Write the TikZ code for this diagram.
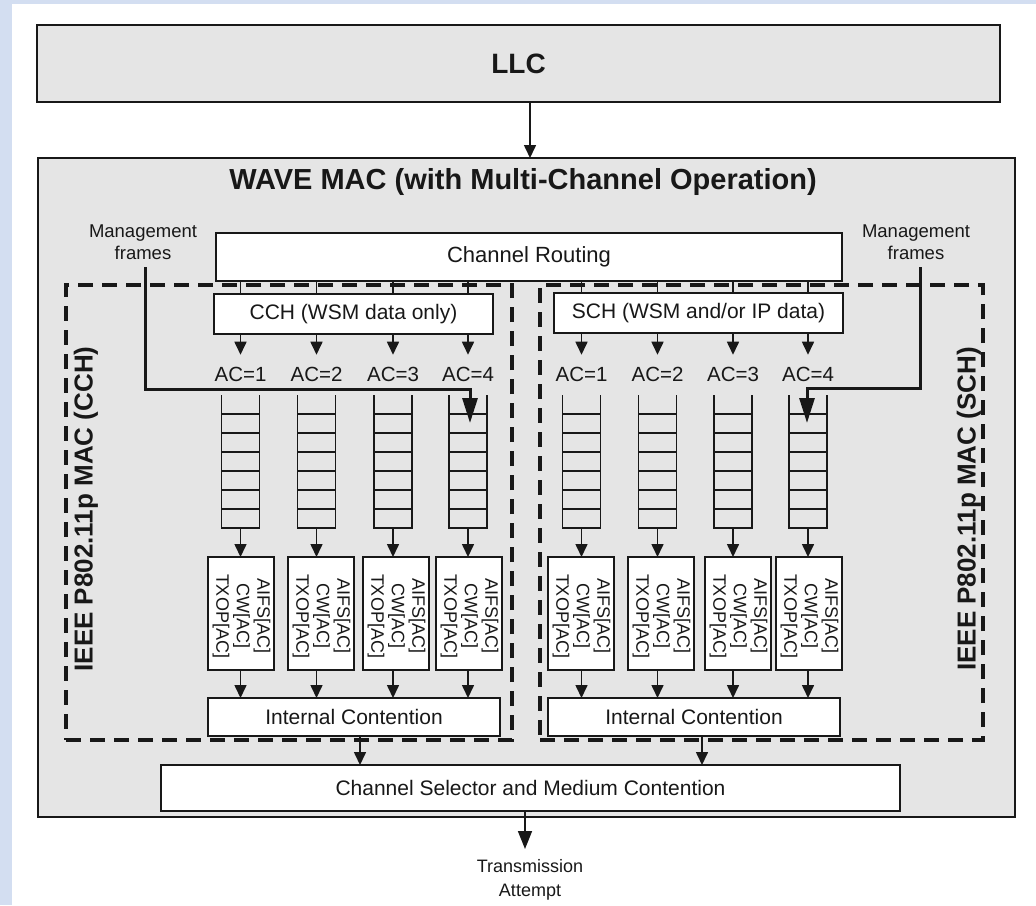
\documentclass[tikz,border=0pt]{standalone}
\usepackage{fontspec}
\usepackage{graphicx}
\setmainfont{Liberation Sans}
\usetikzlibrary{arrows.meta,calc}

\definecolor{pagebg}{RGB}{211,222,241}
\definecolor{panel}{RGB}{229,229,229}
\definecolor{ink}{RGB}{24,24,24}

\begin{document}
\begin{tikzpicture}[x=1pt,y=-1pt,
  every node/.style={inner sep=0pt, outer sep=0pt, text=ink},
  panelbox/.style={draw=ink, line width=1.6pt, fill=panel},
  whitebox/.style={draw=ink, line width=1.5pt, fill=white, font=\fontsize{21}{25}\selectfont},
  regionbox/.style={draw=ink, line width=3.2pt, dash pattern=on 15pt off 9pt},
  queuebox/.style={minimum width=38pt, minimum height=133pt},
  qline/.style={draw=ink, line width=1.5pt},
  edcabox/.style={draw=ink, line width=1.5pt, fill=white, minimum width=66pt, minimum height=113pt},
  edcatext/.style={font=\fontsize{18}{20.5}\selectfont},
  aclabel/.style={font=\fontsize{20.5}{24}\selectfont},
  plainline/.style={draw=ink, line width=1.4pt},
  arr/.style={draw=ink, line width=1.6pt, -{Triangle[width=12pt,length=13pt]}},
  bigarr/.style={draw=ink, line width=1.6pt, -{Triangle[width=14pt,length=18pt]}},
  mgarr/.style={draw=ink, line width=3pt, -{Triangle[width=15pt,length=25pt]}},
  titlefont/.style={font=\fontsize{29}{33}\selectfont\bfseries},
  sidefont/.style={font=\fontsize{26}{30}\selectfont\bfseries},
  smalltext/.style={font=\fontsize{18.5}{22}\selectfont, align=center},
]
% page
\fill[pagebg] (0,0) rectangle (1036,905);
\fill[white] (12,4) rectangle (1036,905);
\useasboundingbox (0,0) rectangle (1036,905);

% upper layer
\node[panelbox, minimum width=963pt, minimum height=77pt, font=\fontsize{28}{32}\selectfont\bfseries] (llc) at (518.5,63.5) {LLC};

% WAVE MAC frame
\node[panelbox, minimum width=977pt, minimum height=659pt] (wave) at (526.5,487.5) {};
\node[titlefont] (wavetitle) at (523,181.5) {WAVE MAC (with Multi-Channel Operation)};
\draw[arr] (530,0 |- llc.south) -- (530,0 |- wave.north);

% the two 802.11p MAC regions
\node[regionbox, minimum width=446pt, minimum height=455pt] (cchmac) at (289,512.5) {};
\node[regionbox, minimum width=443pt, minimum height=455pt] (schmac) at (761.5,512.5) {};
\node[sidefont, rotate=90] (cchlabel) at (86,509) {IEEE P802.11p MAC (CCH)};
\node[sidefont, rotate=90] (schlabel) at (969,509) {IEEE P802.11p MAC (SCH)};

% routing and channel boxes
\node[whitebox, minimum width=626pt, minimum height=48pt, font=\fontsize{22}{26}\selectfont] (route) at (529,257) {Channel Routing};
\node[whitebox, minimum width=279pt, minimum height=40pt] (cch) at (353.5,314) {CCH (WSM data only)};
\node[whitebox, minimum width=289pt, minimum height=40pt] (sch) at (698.5,313) {SCH (WSM and/or IP data)};

% contention boxes
\node[whitebox, minimum width=292pt, minimum height=38pt] (icc) at (354,717) {Internal Contention};
\node[whitebox, minimum width=292pt, minimum height=38pt] (ics) at (694,717) {Internal Contention};
\node[whitebox, minimum width=739pt, minimum height=46pt] (sel) at (530.5,788) {Channel Selector and Medium Contention};

% access categories: queue, EDCA parameters
\foreach \n/\k/\x/\ex/\g/\ic in {
    c1/1/240.5/241/cch/icc, c2/2/316.5/321/cch/icc, c3/3/393/396/cch/icc, c4/4/468/469/cch/icc,
    s1/1/581.5/581/sch/ics, s2/2/657.5/661/sch/ics, s3/3/733/738/sch/ics, s4/4/808/809/sch/ics} {
  \draw[plainline] (\x,0 |- route.south) -- (\x,0 |- \g.north);
  \node[aclabel] (ac\n) at (\x,374) {AC=\k};
  \draw[arr, shorten >=12pt] (\x,0 |- \g.south) -- (ac\n.north);
  \node[queuebox] (q\n) at (\x,461.5) {};
  \draw[qline] (q\n.north west) -- (q\n.south west) -- (q\n.south east) -- (q\n.north east);
  \foreach \j in {1,...,6}
    \draw[qline] ($(q\n.north west)+(0,19*\j)$) -- ($(q\n.north east)+(0,19*\j)$);
  \node[edcabox] (e\n) at (\ex,613.5) {};
  \node[edcatext] (et\n) at (\ex,616) {\rotatebox{-90}{\begin{tabular}{@{}c@{}}AIFS[AC]\\CW[AC]\\TXOP[AC]\end{tabular}}};
  \draw[arr] (q\n.south) -- (\x,0 |- e\n.north);
  \draw[arr] (\x,0 |- e\n.south) -- (\x,0 |- \ic.north);
}

% contention to channel selector
\draw[arr] (360,0 |- icc.south) -- (360,0 |- sel.north);
\draw[arr] (702,0 |- ics.south) -- (702,0 |- sel.north);

% transmission
\node[smalltext, font=\fontsize{18}{24}\selectfont, anchor=north] (tx) at (530,859) {Transmission\\Attempt};
\draw[bigarr, shorten >=10pt] (525,0 |- sel.south) -- (525,0 |- tx.north);

% management frames
\node[smalltext] (mgl) at (143,242) {Management\\frames};
\node[smalltext] (mgr) at (916,242) {Management\\frames};
\draw[mgarr, shorten <=8pt] (145,0 |- mgl.south) |- (470,389) -- ($(qc4.north)+(2,28)$);
\draw[mgarr, shorten <=8pt] (920,0 |- mgr.south) |- (807,388) -- ($(qs4.north)+(-1,28)$);
\end{tikzpicture}
\end{document}
